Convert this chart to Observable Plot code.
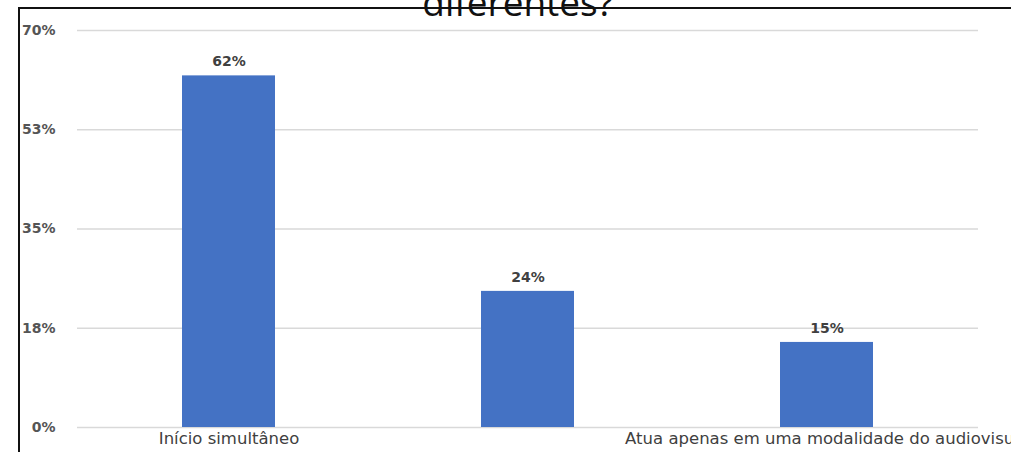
<!DOCTYPE html>
<html><head><meta charset="utf-8">
<script src="https://cdn.jsdelivr.net/npm/d3@7"></script>
<script src="https://cdn.jsdelivr.net/npm/@observablehq/plot@0.6"></script>
<style>
body{margin:0;background:#fff;}
#wrap{position:relative;width:1011px;height:452px;overflow:hidden;background:#fff;}
#frame{position:absolute;left:18px;top:7px;width:1100px;height:600px;border:2px solid #111;}
#title{position:absolute;left:0;width:1036px;top:-18px;text-align:center;font:37px "Open Sans";color:#111;line-height:40px;}
#chart{position:absolute;left:0;top:0;}
</style></head><body>
<div id="wrap"><div id="frame"></div><div id="chart"></div><div id="title">diferentes?</div></div>
<script>
const categories = ["Início simultâneo", "Início em momentos diferentes", "Atua apenas em uma modalidade do audiovisual"];
const tickLabels = ["Início simultâneo", "", "Atua apenas em uma modalidade do audiovisual"];
const values = [62, 24, 15];
const yTicks = [0, 17.5, 35, 52.5, 70];

const data = categories.map((c, i) => ({category: c, value: values[i]}));

const chart = Plot.plot({
  width: 1011, height: 452,
  marginLeft: 77, marginRight: 33, marginTop: 30, marginBottom: 25,
  style: {fontFamily: "DejaVu Sans", background: "transparent", overflow: "visible"},
  x: {domain: categories, paddingInner: 0.69, paddingOuter: 0.3467, label: null},
  y: {domain: [0, 70], label: null},
  marks: [
    Plot.gridY(yTicks, {stroke: "#d9d9d9", strokeOpacity: 1, strokeWidth: 1.5}),
    Plot.axisY(yTicks, {tickSize: 0, tickPadding: 22, tickFormat: d => Math.round(d) + "%", fontSize: 14, fontWeight: 700, fill: "#555555", label: null}),
    Plot.barY(data, {x: "category", y: "value", fill: "#4472c4"}),
    Plot.text(data, {x: "category", y: "value", text: d => d.value + "%", dy: -14, fontSize: 14, fontWeight: 700, fill: "#404040"}),
    Plot.axisX({tickSize: 0, tickPadding: 5, tickFormat: d => tickLabels[categories.indexOf(d)], fontSize: 16.5, fill: "#404040", label: null})
  ]
});
document.getElementById("chart").appendChild(chart);
</script>
</body></html>
